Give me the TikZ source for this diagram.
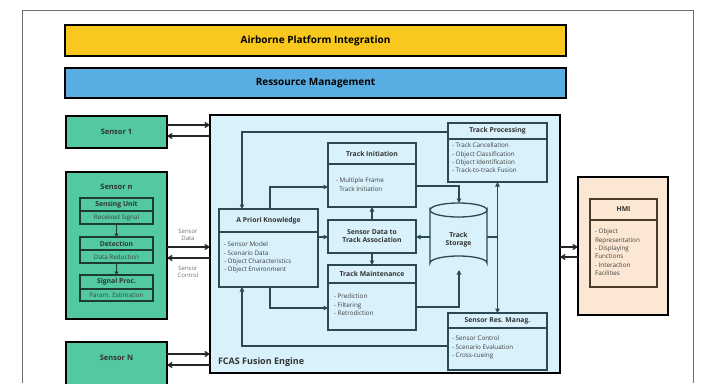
\documentclass[tikz,border=0pt]{standalone}
\usepackage{fontspec}
\setmainfont{Open Sans}
\usetikzlibrary{arrows.meta,calc}
\definecolor{barYellow}{HTML}{F8C81E}
\definecolor{barBlue}{HTML}{58AEE3}
\definecolor{sensGreen}{HTML}{52C9A2}
\definecolor{engFill}{HTML}{D8F1FA}
\definecolor{hmiFill}{HTML}{FBE7D3}
\definecolor{slate}{HTML}{2C4950}
\definecolor{darkGreen}{HTML}{1D3B32}
\definecolor{brownLine}{HTML}{4A3A2C}
\definecolor{frameGray}{HTML}{6E6E6E}
\newcommand{\tinyfont}{\fontsize{6.3}{8.4}\selectfont}
\newcommand{\boxtitlefont}{\fontsize{6.8}{8}\selectfont\bfseries}
\newcommand{\bartitlefont}{\fontsize{10}{11}\selectfont\bfseries}
\begin{document}
\begin{tikzpicture}[x=1pt,y=-1pt,
  every node/.style={inner sep=0pt, outer sep=0pt},
  heavybox/.style={draw=black, line width=2.6pt, anchor=north west},
  innerbox/.style={draw=slate, line width=1.3pt, fill=engFill, anchor=north west},
  sensbox/.style={draw=darkGreen, line width=1.2pt, fill=sensGreen, anchor=north west},
  hmibox/.style={draw=brownLine, line width=1.2pt, fill=hmiFill, anchor=north west},
  conn/.style={draw=slate, line width=1.3pt},
  arr/.style={conn, -{Triangle[length=4.5pt,width=4.5pt]}},
  biarr/.style={conn, {Triangle[length=4.5pt,width=4.5pt]}-{Triangle[length=4.5pt,width=4.5pt]}},
  extarr/.style={draw=black!85, line width=1.3pt, -{Straight Barb[length=4pt,width=5pt]}},
  sensarr/.style={draw=darkGreen, line width=1.1pt, -{Triangle[length=3.5pt,width=4pt]}},
  items/.style={font=\tinyfont, align=left, anchor=north west, text=black!75},
  btitle/.style={font=\boxtitlefont, text=black!80},
  stitle/.style={font=\fontsize{7.5}{9}\selectfont\bfseries, text=black!80},
  smalllabel/.style={font=\fontsize{6}{7}\selectfont, align=center, text=black!55}]

\useasboundingbox (0,0) rectangle (703,383);
\fill[white] (0,0) rectangle (703,383);

% outer frame
\draw[frameGray, line width=0.9pt] (22,383) -- (22,10) -- (693,10) -- (693,383);

% top bars
\node[heavybox, fill=barYellow, minimum width=501pt, minimum height=31pt] (api) at (65,25) {};
\node[font=\bartitlefont] at (api.center) {Airborne Platform Integration};
\node[heavybox, fill=barBlue, minimum width=501pt, minimum height=30pt] (rm) at (65,68) {};
\node[font=\bartitlefont] at (rm.center) {Ressource Management};

% sensors
\node[heavybox, fill=sensGreen, minimum width=101pt, minimum height=32pt] (s1) at (66,116) {};
\node[stitle] at (s1.center) {Sensor 1};

\node[heavybox, fill=sensGreen, minimum width=101pt, minimum height=147pt] (sn) at (66,172) {};
\node[stitle] at (116.5,187) {Sensor n};
\node[sensbox, minimum width=73pt, minimum height=26pt] (su) at (80,198) {};
\draw[darkGreen, line width=1.1pt] ($(su.north west)+(0,13)$) -- ($(su.north east)+(0,13)$);
\node[btitle] at (116.5,204.5) {Sensing Unit};
\node[font=\tinyfont, text=black!75] at (116.5,218) {Received Signal};
\node[sensbox, minimum width=73pt, minimum height=26pt] (det) at (80,237) {};
\draw[darkGreen, line width=1.1pt] ($(det.north west)+(0,13)$) -- ($(det.north east)+(0,13)$);
\node[btitle] at (116.5,243.5) {Detection};
\node[font=\tinyfont, text=black!75] at (116.5,257) {Data Reduction};
\node[sensbox, minimum width=73pt, minimum height=26pt] (sp) at (80,275) {};
\draw[darkGreen, line width=1.1pt] ($(sp.north west)+(0,14)$) -- ($(sp.north east)+(0,14)$);
\node[btitle] at (116.5,282) {Signal Proc.};
\node[font=\tinyfont, text=black!75] at (116.5,295) {Param. Estimation};
\draw[sensarr] (su.south) -- (det.north);
\draw[sensarr] (det.south) -- (sp.north);

\node[heavybox, fill=sensGreen, minimum width=101pt, minimum height=53pt] (sN) at (66,342) {};
\node[stitle] at (116.5,358) {Sensor N};

% fusion engine
\node[heavybox, fill=engFill, minimum width=350pt, minimum height=258pt] (eng) at (210,115) {};
\node[font=\fontsize{9}{10}\selectfont\bfseries, text=black!80, anchor=west] at (218,362) {FCAS Fusion Engine};

% HMI
\node[heavybox, fill=hmiFill, minimum width=90pt, minimum height=138pt] (hmi) at (578,177) {};
\node[hmibox, minimum width=67pt, minimum height=88pt] (hmiin) at (590,199) {};
\draw[brownLine, line width=1.1pt] ($(hmiin.north west)+(0,21)$) -- ($(hmiin.north east)+(0,21)$);
\node[btitle] at (623.5,209.5) {HMI};
\node[items] at (595,229) {- Object\\Representation\\- Displaying\\Functions\\- Interaction\\Facilities};

% engine components
\node[innerbox, minimum width=99pt, minimum height=78pt] (apk) at (219,209) {};
\draw[slate, line width=1.3pt] ($(apk.north west)+(0,23)$) -- ($(apk.north east)+(0,23)$);
\node[btitle] at (268.5,220.5) {A Priori Knowledge};
\node[items] at (224,242) {- Sensor Model\\- Scenario Data\\- Object Characteristics\\- Object Environment};

\node[innerbox, minimum width=88pt, minimum height=64pt] (ti) at (328,143) {};
\draw[slate, line width=1.3pt] ($(ti.north west)+(0,21)$) -- ($(ti.north east)+(0,21)$);
\node[btitle] at (372,153.5) {Track Initiation};
\node[items] at (336,178) {- Multiple Frame\\\ \ Track Initiation};

\node[innerbox, minimum width=88pt, minimum height=33pt] (sda) at (328,220) {};
\node[btitle, align=center] at (sda.center) {Sensor Data to\\Track Association};

\node[innerbox, minimum width=88pt, minimum height=65pt] (tm) at (328,265) {};
\draw[slate, line width=1.3pt] ($(tm.north west)+(0,18)$) -- ($(tm.north east)+(0,18)$);
\node[btitle] at (372,274) {Track Maintenance};
\node[items] at (334,294) {- Prediction\\- Filtering\\- Retrodiction};

\node[innerbox, minimum width=99pt, minimum height=59pt] (tp) at (448,123) {};
\draw[slate, line width=1.3pt] ($(tp.north west)+(0,16)$) -- ($(tp.north east)+(0,16)$);
\node[btitle] at (497.5,131) {Track Processing};
\node[items] at (452,143) {- Track Cancellation\\- Object Classification\\- Object Identification\\- Track-to-track Fusion};

\node[innerbox, minimum width=99pt, minimum height=57pt] (srm) at (448,313) {};
\draw[slate, line width=1.3pt] ($(srm.north west)+(0,15)$) -- ($(srm.north east)+(0,15)$);
\node[btitle] at (497.5,320.5) {Sensor Res. Manag.};
\node[items] at (452,336) {- Sensor Control\\- Scenario Evaluation\\- Cross-cueing};

% track storage drum
\node[anchor=north west, minimum width=57pt, minimum height=67pt] (cyl) at (430,203) {};
\filldraw[fill=engFill, draw=slate, line width=1.3pt]
  (430,210) -- (430,263) arc[start angle=180, end angle=360, x radius=28.5pt, y radius=-7pt]
  -- (487,210) arc[start angle=0, end angle=180, x radius=28.5pt, y radius=-7pt] -- cycle;
\draw[slate, line width=1.3pt] (430,210) arc[start angle=180, end angle=360, x radius=28.5pt, y radius=-7pt];
\node[btitle, align=center] at (458.5,240) {Track\\Storage};

% internal connectors
\draw[arr] ($(tp.north west)+(0,9)$) -| ($(apk.north west)+(23,0)$);
\draw[arr] ($(apk.north west)+(51,0)$) |- ($(ti.north west)+(0,44)$);
\draw[arr] ($(apk.north east)+(0,28)$) -- ($(sda.north west)+(0,17)$);
\draw[arr] (sda.north) -- (ti.south);
\draw[arr] (sda.south) -- (tm.north);
\draw[arr] ($(apk.south west)+(51,0)$) |- ($(tm.north west)+(0,43)$);
\draw[arr] ($(srm.north west)+(0,33)$) -| ($(apk.south west)+(23,0)$);
\draw[arr] ($(ti.north east)+(0,43)$) -| ($(cyl.north west)+(29,0)$);
\draw[arr] ($(cyl.north west)+(0,34)$) -- ($(sda.north east)+(0,17)$);
\draw[arr] ($(tm.north east)+(0,42)$) -| ($(cyl.south west)+(29,0)$);
\draw[biarr] (tp.south) -- (srm.north);
\draw[conn] ($(cyl.north east)+(0,34)$) -- ($(tp.south)+(0,55)$);

% sensor and HMI links
\draw[extarr] ($(s1.north east)+(0,9)$) -- ($(eng.north west)+(0,10)$);
\draw[extarr] ($(eng.north west)+(0,21)$) -- ($(s1.north east)+(0,20)$);
\draw[extarr] ($(sn.north east)+(0,75)$) -- ($(eng.north west)+(0,132)$);
\draw[extarr] ($(eng.north west)+(0,143)$) -- ($(sn.north east)+(0,86)$);
\node[smalllabel] at (188,235) {Sensor\\Data};
\node[smalllabel] at (188,272) {Sensor\\Control};
\draw[extarr] ($(sN.north east)+(0,12)$) -- ($(eng.north west)+(0,239)$);
\draw[extarr] ($(eng.north west)+(0,250)$) -- ($(sN.north east)+(0,23)$);
\draw[extarr] ($(eng.north east)+(0,132)$) -- ($(hmi.north west)+(0,70)$);
\draw[extarr] ($(hmi.north west)+(0,80)$) -- ($(eng.north east)+(0,142)$);

\end{tikzpicture}
\end{document}
